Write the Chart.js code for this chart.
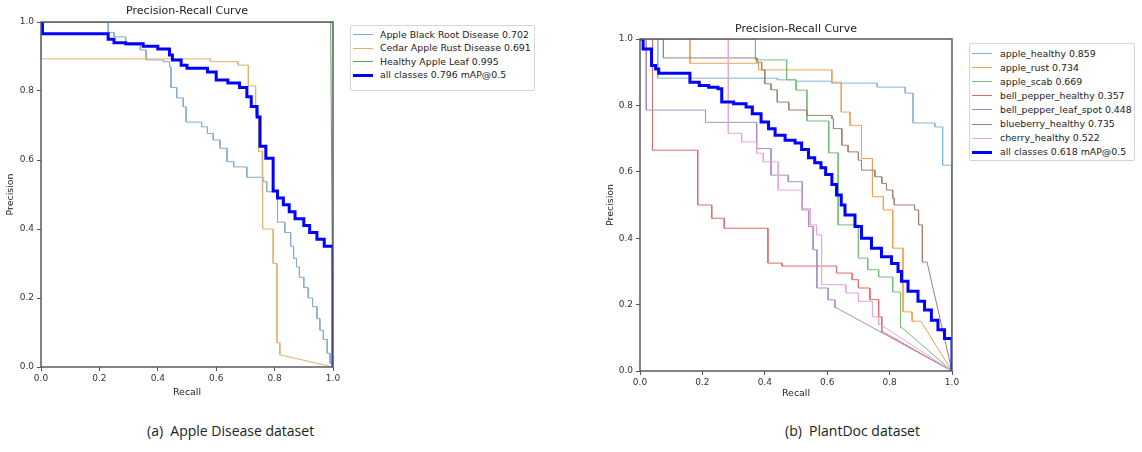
<!DOCTYPE html>
<html><head><meta charset="utf-8">
<script src="https://cdn.jsdelivr.net/npm/chart.js@4.4.1/dist/chart.umd.min.js"></script>
<style>
html,body{margin:0;padding:0;background:#fff;width:1142px;height:452px;overflow:hidden;position:relative;font-family:"DejaVu Sans",sans-serif;}
canvas{position:absolute;top:0;}
#cA{left:0;}
#cB{left:595px;}
.legend{position:absolute;border:1px solid #d6d6d6;border-radius:2px;background:#fff;font-size:9.4px;color:#222;box-sizing:border-box;}
.row{position:absolute;left:0;right:0;white-space:nowrap;}
.sw{position:absolute;width:20px;}
.lbl{position:absolute;line-height:12px;}
.cap{position:absolute;top:421px;font-family:"Open Sans",sans-serif;font-size:14px;color:#222;white-space:nowrap;}
</style></head>
<body>
<canvas id="cA" width="345" height="400"></canvas>
<canvas id="cB" width="370" height="400"></canvas>
<div class="legend" id="legA" style="left:350px;top:25px;width:185px;height:66px;"></div>
<div class="legend" id="legB" style="left:969px;top:43px;width:166px;height:118px;"></div>
<div class="cap" style="left:147px;">(a)&nbsp; Apple Disease dataset</div>
<div class="cap" style="left:785px;">(b)&nbsp; PlantDoc dataset</div>
<script>
// ---------- shared axis ticks ----------
const tickValues = [0, 0.2, 0.4, 0.6, 0.8, 1.0];
const tickLabels = ['0.0', '0.2', '0.4', '0.6', '0.8', '1.0'];

// ---------- (a) Apple Disease dataset : plateau ends (recall) and precision ----------
const aLabels = ['Apple Black Root Disease 0.702', 'Cedar Apple Rust Disease 0.691', 'Healthy Apple Leaf 0.995', 'all classes 0.796 mAP@0.5'];
const aColors = ['#86aacb', '#e2b071', '#5fa35f', '#0000ff'];
const aBlackRootR = [0.23,0.25,0.29,0.34,0.36,0.42,0.44,0.445,0.465,0.487,0.497,0.55,0.57,0.59,0.613,0.637,0.66,0.705,0.76,0.773,0.81,0.835,0.855,0.865,0.875,0.885,0.90,0.915,0.93,0.945,0.955,0.967,0.98,0.99,1.0];
const aBlackRootP = [1.0,0.97,0.957,0.933,0.919,0.89,0.885,0.87,0.81,0.78,0.754,0.71,0.696,0.677,0.658,0.634,0.595,0.58,0.55,0.537,0.508,0.42,0.39,0.35,0.315,0.29,0.26,0.23,0.20,0.175,0.14,0.107,0.08,0.04,0.01];
const aCedarR = [0, 0.58, 0.675, 0.71, 0.735, 0.745, 0.757, 0.76, 0.795, 0.808, 0.818, 0.82];
const aCedarP = [1, 0.893, 0.885, 0.875, 0.815, 0.73, 0.625, 0.51, 0.40, 0.30, 0.07, 0.035];
const aHealthyR = [0.992];
const aHealthyP = [1.0];
const aAllR = [0.005,0.23,0.25,0.29,0.35,0.40,0.44,0.45,0.48,0.50,0.57,0.60,0.64,0.68,0.705,0.72,0.74,0.75,0.77,0.795,0.81,0.83,0.85,0.87,0.90,0.92,0.945,0.97,1.0];
const aAllP = [1,0.966,0.95,0.94,0.937,0.93,0.922,0.904,0.89,0.875,0.866,0.855,0.832,0.823,0.81,0.783,0.755,0.725,0.64,0.605,0.51,0.49,0.47,0.45,0.43,0.41,0.39,0.37,0.35];

// ---------- (b) PlantDoc dataset ----------
const bLabels = ['apple_healthy 0.859', 'apple_rust 0.734', 'apple_scab 0.669', 'bell_pepper_healthy 0.357', 'bell_pepper_leaf_spot 0.448', 'blueberry_healthy 0.735', 'cherry_healthy 0.522', 'all classes 0.618 mAP@0.5'];
const bColors = ['#86b4d8', '#f4a04e', '#76bd76', '#de6b6b', '#a390c2', '#a08070', '#eaa6d6', '#0000ff'];
const bHealthyR = [0.057,0.44,0.50,0.615,0.76,0.85,0.875,0.945,0.97,1.0];
const bHealthyP = [1,0.882,0.877,0.873,0.867,0.855,0.837,0.747,0.735,0.62];
const bRustR = [0.16,0.38,0.615,0.645,0.673,0.71,0.745,0.78,0.81,0.843,0.872,0.90];
const bRustP = [1,0.927,0.907,0.87,0.78,0.74,0.64,0.525,0.485,0.37,0.178,0.15];
const bScabR = [0.37,0.47,0.50,0.535,0.605,0.635,0.70,0.73,0.765,0.81,0.835,0.84];
const bScabP = [1,0.937,0.877,0.846,0.753,0.657,0.44,0.34,0.305,0.283,0.238,0.13];
const bPepperR = [0.04,0.185,0.23,0.27,0.41,0.455,0.63,0.68,0.70,0.737,0.765,0.775,0.78];
const bPepperP = [1,0.665,0.50,0.46,0.43,0.325,0.316,0.295,0.275,0.25,0.215,0.163,0.117];
const bSpotR = [0.02,0.21,0.374,0.42,0.475,0.52,0.54,0.555,0.567,0.603,0.625,0.63];
const bSpotP = [1,0.786,0.749,0.67,0.59,0.57,0.485,0.435,0.365,0.25,0.214,0.19];
const bBlueberryR = [0.075,0.375,0.39,0.40,0.42,0.44,0.477,0.535,0.615,0.62,0.647,0.667,0.70,0.71,0.753,0.775,0.79,0.81,0.815,0.88,0.893,0.905,0.92];
const bBlueberryP = [1,0.943,0.93,0.907,0.865,0.847,0.81,0.786,0.77,0.76,0.73,0.68,0.66,0.635,0.605,0.585,0.565,0.545,0.52,0.50,0.485,0.44,0.328];
const bCherryR = [0.283,0.326,0.374,0.395,0.443,0.518,0.545,0.566,0.582,0.66,0.70,0.745,0.765,0.77];
const bCherryP = [1,0.716,0.69,0.656,0.63,0.545,0.49,0.44,0.41,0.26,0.235,0.21,0.163,0.14];
const bAllR = [0.01,0.037,0.05,0.06,0.16,0.19,0.22,0.25,0.262,0.30,0.34,0.36,0.388,0.412,0.433,0.465,0.497,0.518,0.54,0.56,0.58,0.595,0.615,0.63,0.645,0.657,0.689,0.71,0.742,0.774,0.806,0.827,0.838,0.859,0.891,0.912,0.934,0.955,0.976,1.0];
const bAllP = [1,0.97,0.92,0.91,0.897,0.87,0.86,0.855,0.85,0.81,0.805,0.795,0.775,0.75,0.73,0.71,0.695,0.687,0.667,0.642,0.627,0.612,0.592,0.562,0.53,0.50,0.47,0.435,0.40,0.37,0.344,0.324,0.30,0.27,0.24,0.21,0.184,0.153,0.124,0.098];

// stairs: precision P[i] holds from previous recall to R[i]; curve ends at (1,0)
function stairs(R, P) {
  const pts = [];
  let prev = 0;
  for (let i = 0; i < R.length; i++) {
    pts.push({x: prev, y: P[i]});
    pts.push({x: R[i], y: P[i]});
    prev = R[i];
  }
  pts.push({x: 1, y: 0});
  return pts;
}

function buildSets(series, labels, colors) {
  const n = series.length;
  return series.map((s, i) => {
    const all = i === n - 1;
    return {
      label: labels[i],
      data: stairs(s[0], s[1]),
      borderColor: colors[i],
      backgroundColor: colors[i],
      borderWidth: all ? 3 : 1,
      pointRadius: 0,
      fill: false,
      tension: 0,
      order: all ? 0 : 100 - i
    };
  });
}

// matplotlib-like spines drawn over the curves
const frame = {
  id: 'frame',
  afterDatasetsDraw(chart) {
    const {ctx, chartArea: a} = chart;
    ctx.save();
    ctx.strokeStyle = '#5a5a5a';
    ctx.lineWidth = 1.5;
    ctx.strokeRect(a.left, a.top, a.right - a.left, a.bottom - a.top);
    ctx.restore();
  }
};

const FONT = 'DejaVu Sans';
function makeChart(id, datasets, c) {
  return new Chart(document.getElementById(id), {
    type: 'line',
    data: {datasets},
    options: {
      responsive: false, animation: false, devicePixelRatio: 1,
      layout: {padding: c.padding},
      plugins: {
        legend: {display: false},
        tooltip: {enabled: false},
        title: {display: true, text: 'Precision-Recall Curve', fullSize: false, color: '#222',
          font: {family: FONT, size: 11, weight: 'normal', lineHeight: 1.2}, padding: c.titlePad}
      },
      scales: {
        x: {
          type: 'linear', min: 0, max: 1,
          afterBuildTicks: s => { s.ticks = tickValues.map(v => ({value: v})); },
          ticks: {callback: (v) => tickLabels[tickValues.indexOf(Math.round(v * 10) / 10)], color: '#333',
            font: {family: FONT, size: 9}, padding: 2, maxRotation: 0, autoSkip: false},
          grid: {drawOnChartArea: false, drawTicks: true, tickLength: 4, color: '#555'},
          border: {display: false},
          title: {display: true, text: 'Recall', color: '#222', font: {family: FONT, size: 9.4}, padding: {top: 0, bottom: c.xtPad}},
          afterFit: s => { s.height = c.xh; }
        },
        y: {
          type: 'linear', min: 0, max: 1,
          afterBuildTicks: s => { s.ticks = tickValues.map(v => ({value: v})); },
          ticks: {callback: (v) => tickLabels[tickValues.indexOf(Math.round(v * 10) / 10)], color: '#333',
            font: {family: FONT, size: 9}, padding: 3, autoSkip: false},
          grid: {drawOnChartArea: false, drawTicks: true, tickLength: 4, color: '#555'},
          border: {display: false},
          title: {display: true, text: 'Precision', color: '#222', font: {family: FONT, size: 9.4}, padding: {top: c.ytPad, bottom: 0}},
          afterFit: s => { s.width = c.yw; }
        }
      }
    },
    plugins: [frame]
  });
}

const setsA = buildSets([[aBlackRootR, aBlackRootP], [aCedarR, aCedarP], [aHealthyR, aHealthyP], [aAllR, aAllP]], aLabels, aColors);
const setsB = buildSets([[bHealthyR, bHealthyP], [bRustR, bRustP], [bScabR, bScabP], [bPepperR, bPepperP], [bSpotR, bSpotP], [bBlueberryR, bBlueberryP], [bCherryR, bCherryP], [bAllR, bAllP]], bLabels, bColors);

makeChart('cA', setsA, {padding: {left: 0, right: 12, top: 0, bottom: 0}, titlePad: {top: 5, bottom: 3.8}, xh: 33, yw: 41, xtPad: 1.5, ytPad: 5});
makeChart('cB', setsB, {padding: {left: 0, right: 13, top: 17, bottom: 0}, titlePad: {top: 6, bottom: 2.8}, xh: 29, yw: 45, xtPad: 0.5, ytPad: 10});

function buildLegend(id, sets, top0, step, swLeft, txtLeft) {
  const el = document.getElementById(id);
  sets.forEach((d, i) => {
    const row = document.createElement('div');
    row.className = 'row';
    row.style.top = (top0 + i * step) + 'px';
    const sw = document.createElement('div');
    sw.className = 'sw';
    sw.style.left = swLeft + 'px';
    sw.style.borderTop = d.borderWidth + 'px solid ' + d.borderColor;
    sw.style.top = (6 - d.borderWidth / 2) + 'px';
    const t = document.createElement('div');
    t.className = 'lbl';
    t.style.left = txtLeft + 'px';
    t.textContent = d.label;
    row.appendChild(sw); row.appendChild(t);
    el.appendChild(row);
  });
}
buildLegend('legA', setsA, 2.5, 13.5, 2, 29);
buildLegend('legB', setsB, 3.5, 14.1, 2, 30);
</script>
</body></html>
